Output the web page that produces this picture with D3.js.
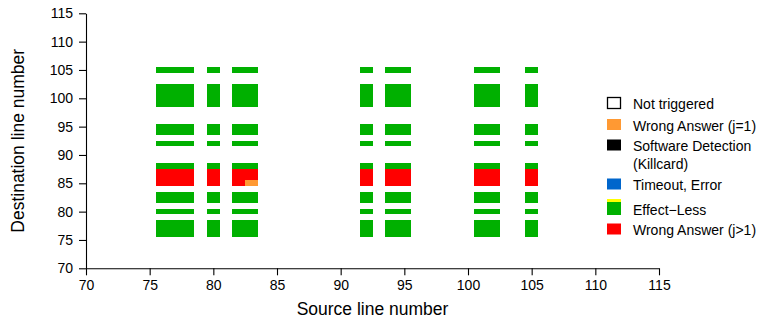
<!DOCTYPE html>
<html>
<head>
<meta charset="utf-8">
<script src="https://cdn.jsdelivr.net/npm/d3@7"></script>
<style>
  body { margin: 0; background: #fff; }
  svg { font-family: "Liberation Sans", Arial, sans-serif; }
</style>
</head>
<body>
<svg id="chart" width="759" height="320"></svg>
<script>
// source lines (x) and destination lines (y) that were injected
var sourceLines = [76, 77, 78, 80, 82, 83, 92, 94, 95, 101, 102, 105];
var destLines = [76, 77, 78, 80, 82, 83, 85, 86, 87, 88, 92, 94, 95, 99, 100, 101, 102, 105];

// one string per destination line, one letter per source line
// E = effect-less, W = wrong answer (j>1), O = wrong answer (j=1)
var outcomes = [
  "EEEEEEEEEEEE", // 76
  "EEEEEEEEEEEE", // 77
  "EEEEEEEEEEEE", // 78
  "EEEEEEEEEEEE", // 80
  "EEEEEEEEEEEE", // 82
  "EEEEEEEEEEEE", // 83
  "WWWWWOWWWWWW", // 85
  "WWWWWWWWWWWW", // 86
  "WWWWWWWWWWWW", // 87
  "EEEEEEEEEEEE", // 88
  "EEEEEEEEEEEE", // 92
  "EEEEEEEEEEEE", // 94
  "EEEEEEEEEEEE", // 95
  "EEEEEEEEEEEE", // 99
  "EEEEEEEEEEEE", // 100
  "EEEEEEEEEEEE", // 101
  "EEEEEEEEEEEE", // 102
  "EEEEEEEEEEEE"  // 105
];

var xTicks = [70, 75, 80, 85, 90, 95, 100, 105, 110, 115];
var yTicks = [70, 75, 80, 85, 90, 95, 100, 105, 110, 115];

var legendCodes = ["N", "O", "S", "T", "E", "W"];
var legendLabels = [["Not triggered"], ["Wrong Answer (j=1)"], ["Software Detection", "(Killcard)"],
                    ["Timeout, Error"], ["Effect\u2212Less"], ["Wrong Answer (j>1)"]];

var colors = {N: "#ffffff", O: "#ff9933", S: "#000000", T: "#0066cc", E: "#00b000", W: "#ff0000"};

var svg = d3.select("#chart");

var x = d3.scaleLinear().domain([70, 115]).range([86, 659]);
var y = d3.scaleLinear().domain([70, 115]).range([268.3, 13.3]);

// cells
var cells = [];
destLines.forEach(function(d, i) {
  sourceLines.forEach(function(s, j) {
    cells.push({src: s, dst: d, code: outcomes[i][j]});
  });
});

svg.append("g").selectAll("rect").data(cells).enter().append("rect")
  .attr("x", d => x(d.src - 0.5))
  .attr("width", d => x(d.src + 0.5) - x(d.src - 0.5))
  .attr("y", d => y(d.dst + 0.5))
  .attr("height", d => y(d.dst - 0.5) - y(d.dst + 0.5))
  .attr("fill", d => colors[d.code])
  .attr("shape-rendering", "crispEdges");

// axes
var xAxis = svg.append("g").attr("transform", "translate(0,268.3)")
  .call(d3.axisBottom(x).tickValues(xTicks).tickSize(7).tickSizeOuter(0).tickPadding(5));
var yAxis = svg.append("g").attr("transform", "translate(86,0)")
  .call(d3.axisLeft(y).tickValues(yTicks).tickSize(7).tickSizeOuter(0).tickPadding(6));

[xAxis, yAxis].forEach(function(a) {
  a.selectAll("text").style("font-size", "14px").attr("fill", "#000");
  a.selectAll("line, path").attr("stroke", "#000").attr("stroke-width", 1.1);
});

svg.append("text").attr("x", x(92.5)).attr("y", 315)
  .attr("text-anchor", "middle").style("font-size", "17.5px").text("Source line number");
svg.append("text").attr("transform", "translate(24," + y(92.5) + ") rotate(-90)")
  .attr("text-anchor", "middle").style("font-size", "17.5px").text("Destination line number");

// legend
var legendY = [103, 124.5, 145, 184, 207, 229];
var lg = svg.append("g");
legendCodes.forEach(function(c, i) {
  var cy = legendY[i];
  if (c === "E") {
    lg.append("rect").attr("x", 607).attr("y", cy - 8).attr("width", 14).attr("height", 3).attr("fill", "#ffff00");
    lg.append("rect").attr("x", 607).attr("y", cy - 5).attr("width", 14).attr("height", 13).attr("fill", colors[c]);
  } else if (c === "N") {
    lg.append("rect").attr("x", 607.5).attr("y", cy - 5.5).attr("width", 13).attr("height", 11)
      .attr("fill", "#fff").attr("stroke", "#000").attr("stroke-width", 1.3);
  } else {
    lg.append("rect").attr("x", 607).attr("y", cy - 5.5).attr("width", 14).attr("height", 11).attr("fill", colors[c]);
  }
  var ty = c === "E" ? cy + 3 : cy + 1;
  legendLabels[i].forEach(function(t, k) {
    lg.append("text").attr("x", 633).attr("y", ty + 5 + k * 18)
      .style("font-size", "14px").text(t);
  });
});
</script>
</body>
</html>
